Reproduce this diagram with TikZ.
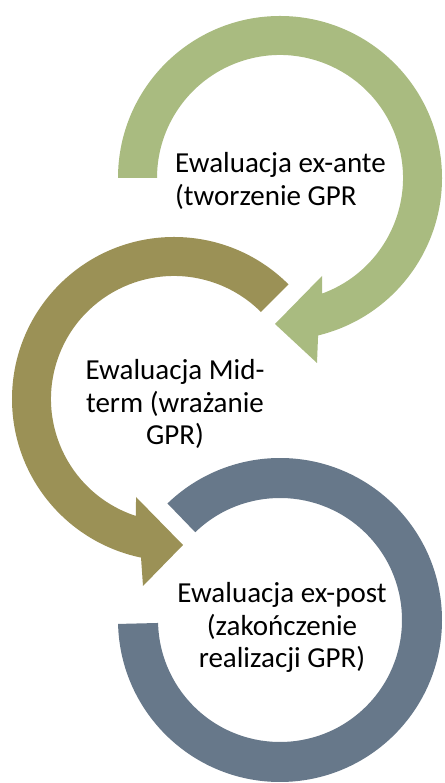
\documentclass[tikz,border=0pt]{standalone}
\usepackage{fontspec}
\setmainfont{Carlito}
\definecolor{cgreen}{RGB}{169,187,128}
\definecolor{colive}{RGB}{155,145,86}
\definecolor{cslate}{RGB}{103,120,138}
\begin{document}
\begin{tikzpicture}[x=1pt,y=1pt,
  lbl/.style={inner sep=0pt,anchor=base,font=\fontsize{29}{32.5}\selectfont,text=black}]
\useasboundingbox (0,0) rectangle (444,783);
% green ring (top), centre (280,605)
\coordinate (G) at (280,605);
\fill[cgreen] ([shift={(G)}]180:162pt) arc[start angle=180,end angle=-76.4,radius=162pt]
  -- (317,420) -- (275,459) -- (322,507)
  -- ([shift={(G)}]-70:123pt) arc[start angle=-70,end angle=180,radius=123pt] -- cycle;
% olive ring (middle), centre (174,384)
\coordinate (O) at (174,384);
\fill[colive] ([shift={(O)}]45:162pt) arc[start angle=45,end angle=258.25,radius=162pt]
  -- (143,197) -- (183,238) -- (136,286)
  -- ([shift={(O)}]252:123pt) arc[start angle=252,end angle=45,radius=123pt] -- cycle;
% slate ring (bottom), centre (280,163)
\coordinate (B) at (280,163);
\fill[cslate] ([shift={(B)}]181.4:162pt) arc[start angle=181.4,end angle=494,radius=162pt]
  -- ([shift={(B)}]494:122pt) arc[start angle=494,end angle=181.4,radius=122pt] -- cycle;
% labels (anchored at the baseline of the last line)
\node[lbl,align=left,anchor=base west] (tg) at (175,577.5) {Ewaluacja ex-ante\\(tworzenie GPR};
\node[lbl,align=center] (to) at (175,338) {Ewaluacja Mid-\\term (wrażanie\\GPR)};
\node[lbl,align=center] (tb) at (282,115) {Ewaluacja ex-post\\(zakończenie\\realizacji GPR)};
\end{tikzpicture}
\end{document}
